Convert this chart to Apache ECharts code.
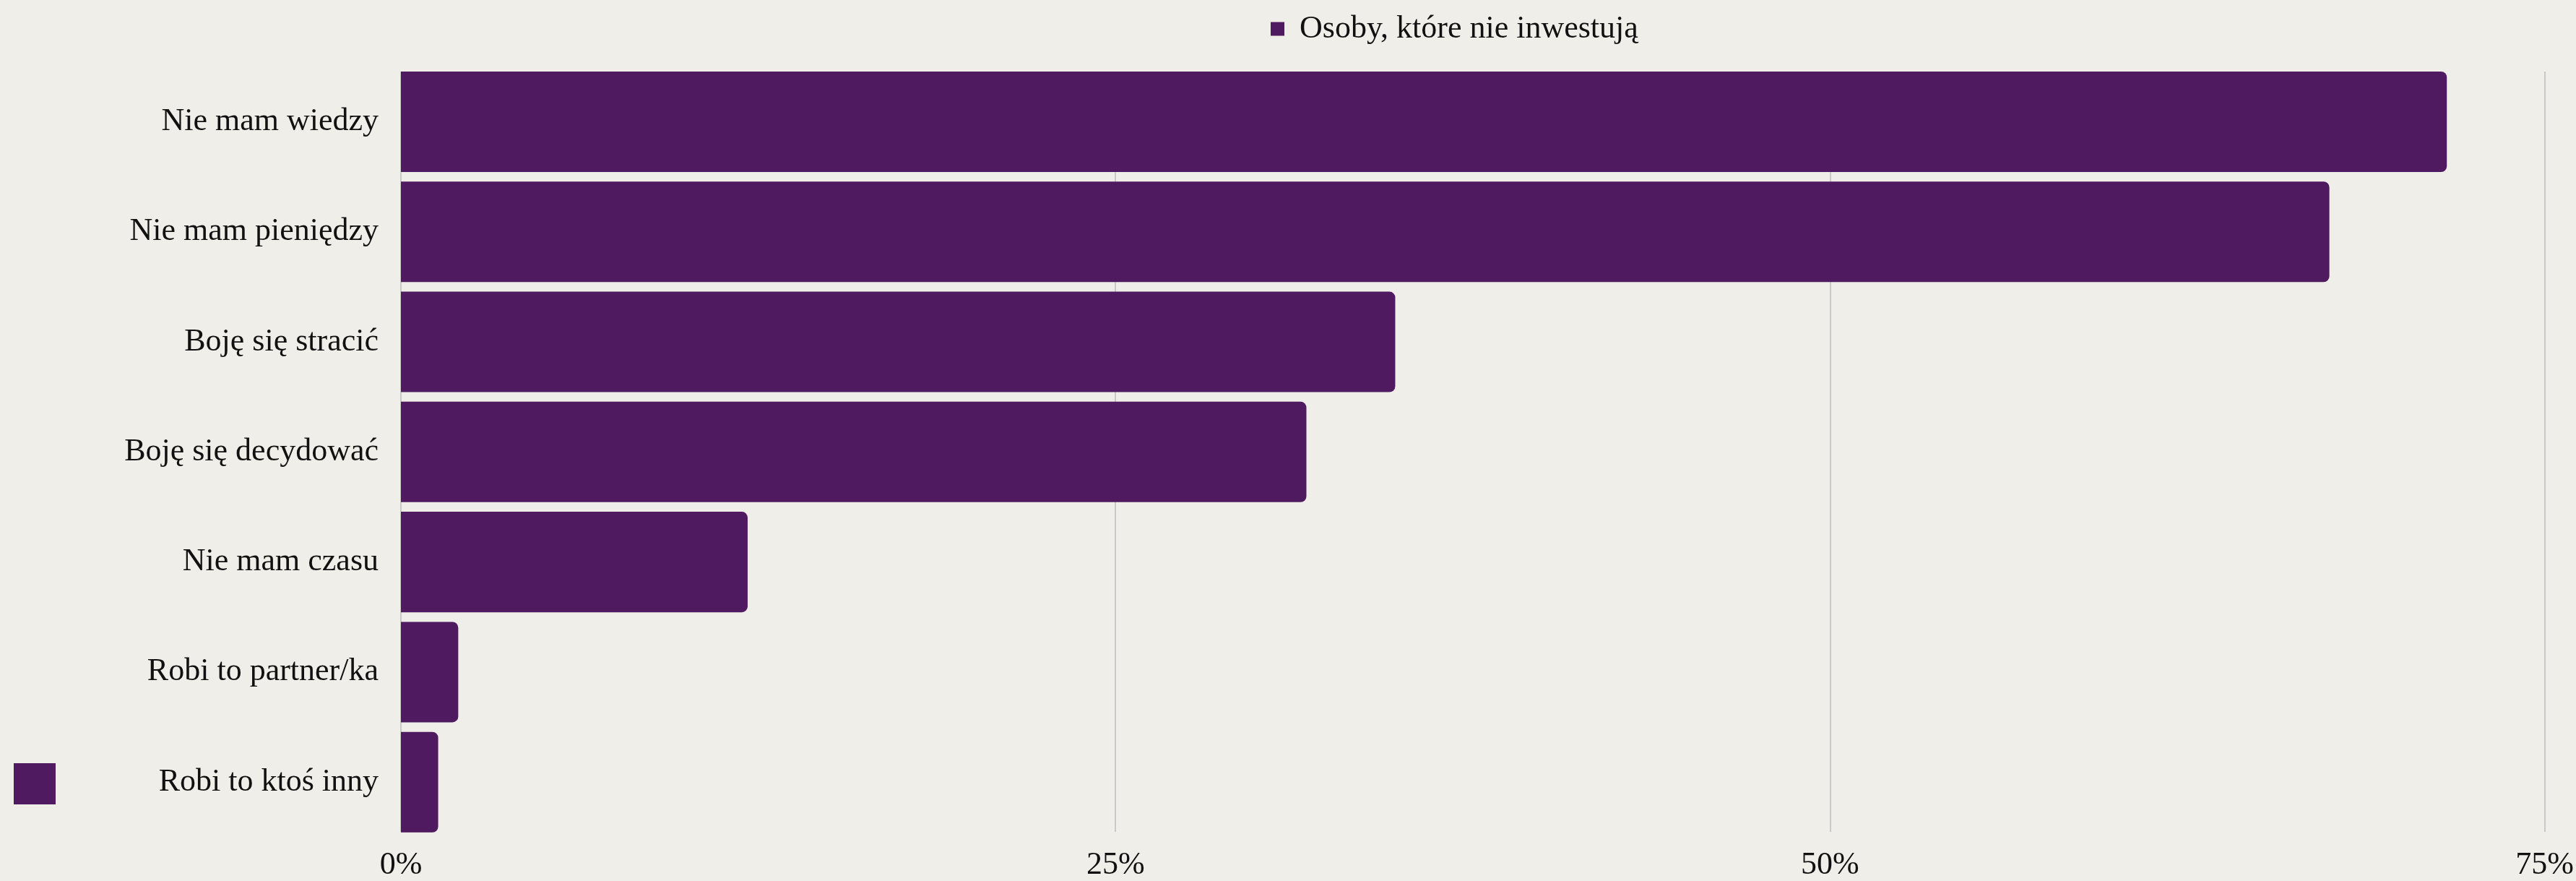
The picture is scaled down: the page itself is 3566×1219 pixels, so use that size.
<!DOCTYPE html>
<html>
<head>
<meta charset="utf-8">
<script src="https://cdn.jsdelivr.net/npm/echarts@6/dist/echarts.min.js"></script>
<style>
  html, body { margin: 0; padding: 0; background: #EFEEE8; }
  #chart { width: 3566px; height: 1219px; }
</style>
</head>
<body>
<div id="chart"></div>
<script>
// Reasons given by people who do not invest (share of respondents, %)
const categories = [
  'Nie mam wiedzy',
  'Nie mam pieniędzy',
  'Boję się stracić',
  'Boję się decydować',
  'Nie mam czasu',
  'Robi to partner/ka',
  'Robi to ktoś inny'
];
const seriesName = 'Osoby, które nie inwestują';
const values = [71.4, 67.3, 34.7, 31.6, 12.1, 2.0, 1.3];
const tickValues = [0, 25, 50, 75];

const purple = '#4F1A60';
const fontFamily = '"Liberation Serif", "DejaVu Serif", serif';

const chart = echarts.init(document.getElementById('chart'), null, { renderer: 'canvas' });

chart.setOption({
  backgroundColor: '#EFEEE8',
  animation: false,
  textStyle: { fontFamily: fontFamily },
  legend: {
    data: [seriesName],
    left: 1754,
    top: 13,
    itemWidth: 19,
    itemHeight: 19,
    icon: 'rect',
    textStyle: { fontFamily: fontFamily, fontSize: 44, color: '#111111', padding: [0, 0, 0, 16] }
  },
  grid: [
    // bars
    { left: 555, right: 36, top: 92.35, height: 1066, containLabel: false },
    // gridlines and value labels
    { left: 555, right: 36, top: 99, height: 1053, containLabel: false }
  ],
  xAxis: [
    {
      type: 'value', gridIndex: 0, min: 0, max: 75, interval: 25,
      show: false
    },
    {
      type: 'value', gridIndex: 1, min: 0, max: 75, interval: 25,
      axisLine: { show: false },
      axisTick: { show: false },
      splitLine: { show: true, lineStyle: { color: '#BDBDBD', width: 1.5 } },
      axisLabel: {
        margin: 24,
        fontFamily: fontFamily,
        fontSize: 44,
        color: '#111111',
        formatter: function (v) { return tickValues.indexOf(v) >= 0 ? v + '%' : ''; }
      }
    }
  ],
  yAxis: [
    {
      type: 'category', gridIndex: 0, data: categories, inverse: true,
      axisLine: { show: false },
      axisTick: { show: false },
      axisLabel: {
        margin: 31, fontFamily: fontFamily, fontSize: 44, color: '#111111',
        padding: [9, 0, 0, 0]
      }
    },
    {
      type: 'category', gridIndex: 1, data: categories, inverse: true, show: false
    }
  ],
  series: [
    {
      name: seriesName,
      type: 'bar',
      xAxisIndex: 0,
      yAxisIndex: 0,
      data: values,
      barCategoryGap: '8.7%',
      itemStyle: { color: purple, borderRadius: [0, 8, 8, 0] }
    }
  ],
  graphic: [
    {
      type: 'rect',
      left: 19,
      top: 1056,
      shape: { width: 58, height: 57 },
      style: { fill: purple }
    }
  ]
});
</script>
</body>
</html>
